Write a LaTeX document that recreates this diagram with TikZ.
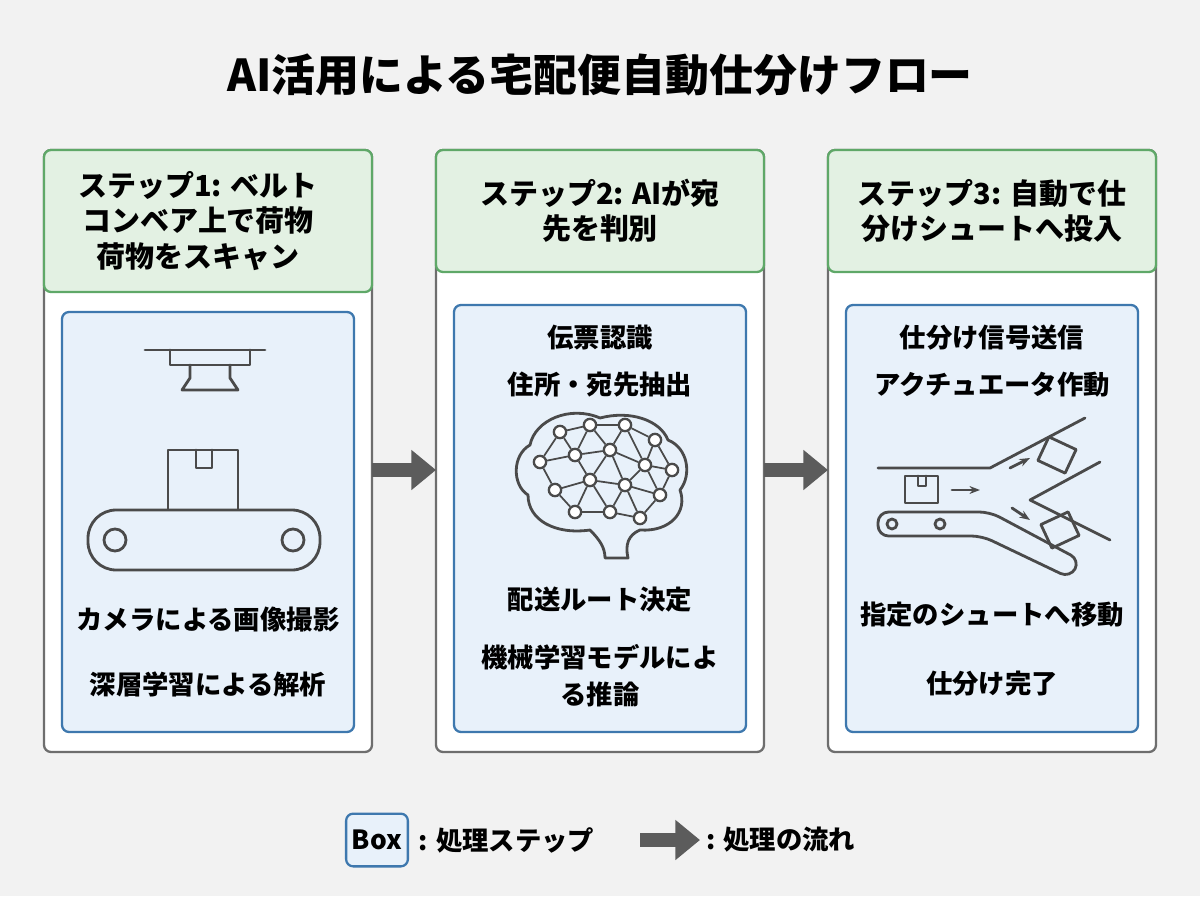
\documentclass[tikz,border=0pt]{standalone}
\usepackage{fontspec}
\setmainfont{Noto Sans CJK JP}
\usetikzlibrary{positioning, arrows.meta}
\definecolor{bgcol}{HTML}{F2F2F2}
\definecolor{hdrfill}{HTML}{E3F1E3}
\definecolor{hdrline}{HTML}{5FA868}
\definecolor{innerfill}{HTML}{E8F1FA}
\definecolor{innerline}{HTML}{3E78AE}
\definecolor{panelline}{HTML}{6E6E6E}
\definecolor{icon}{HTML}{4A4A4A}
\definecolor{flow}{HTML}{5C5C5C}

\tikzset{
  panel/.style={draw=panelline, line width=1.3pt, fill=white, rounded corners=4pt},
  header/.style={draw=hdrline, line width=1.3pt, fill=hdrfill, rounded corners=4pt},
  inner/.style={draw=innerline, line width=1.3pt, fill=innerfill, rounded corners=4pt},
  hdrtext/.style={font=\fontsize{16.5}{20}\selectfont\bfseries, align=center},
  itemtext/.style={font=\fontsize{15}{21}\selectfont\bfseries, align=center},
  flowarrow/.style={-{Triangle[length=14pt, width=22pt]}, line width=8pt, draw=flow},
  ico/.style={draw=icon, line width=1.6pt, line join=round, line cap=round},
  nd/.style={circle, draw=icon, fill=white, line width=1.3pt, inner sep=0pt, minimum size=7pt}
}

\begin{document}
\begin{tikzpicture}[x=0.02cm, y=-0.02cm]
    \fill[bgcol] (0,0) rectangle (1200,896);
    \useasboundingbox (0,0) rectangle (1200,896);

    % Title
    \node[font=\fontsize{25}{30}\selectfont\bfseries] (title) at (600,75) {AI活用による宅配便自動仕分けフロー};

    % Panels
    \foreach \x/\name in {44/one, 436/two, 828/three} {
        \draw[panel] (\x,150) rectangle ++(328,602);
        \coordinate (\name) at (\x,150);
    }

    % Headers
    \draw[header] (44,150) rectangle (372,292);
    \draw[header] (436,150) rectangle (764,272);
    \draw[header] (828,150) rectangle (1156,272);
    \node[hdrtext] (h1) at (198,221) {ステップ1: ベルト\\コンベア上で荷物\\荷物をスキャン};
    \node[hdrtext] (h2) at (600,211) {ステップ2: AIが宛\\先を判別};
    \node[hdrtext] (h3) at (992,211) {ステップ3: 自動で仕\\分けシュートへ投入};

    % Inner boxes
    \draw[inner] (62,312) rectangle (354,732);
    \draw[inner] (454,305) rectangle (746,732);
    \draw[inner] (846,305) rectangle (1138,732);

    % Texts step 1
    \node[itemtext] (t11) at (208,620) {カメラによる画像撮影};
    \node[itemtext] (t12) at (208,684) {深層学習による解析};
    % Texts step 2
    \node[itemtext] (t21) at (600,338) {伝票認識};
    \node[itemtext] (t22) at (600,385) {住所・宛先抽出};
    \node[itemtext] (t23) at (600,600) {配送ルート決定};
    \node[itemtext] (t24) at (600,676) {機械学習モデルによ\\る推論};
    % Texts step 3
    \node[itemtext] (t31) at (992,338) {仕分け信号送信};
    \node[itemtext] (t32) at (992,385) {アクチュエータ作動};
    \node[itemtext] (t33) at (992,615) {指定のシュートへ移動};
    \node[itemtext] (t34) at (992,684) {仕分け完了};

    % Camera and conveyor icon
    \draw[ico] (145,350) -- (265,350);
    \draw[ico] (170,350) -- (170,365) -- (250,365) -- (250,350);
    \draw[ico] (190,365) -- (190,378) -- (182,390) -- (238,390) -- (230,378) -- (230,365);
    \draw[ico] (168,450) rectangle (238,510);
    \draw[ico] (196,450) -- (196,468) -- (212,468) -- (212,450);
    \draw[ico, rounded corners=16pt] (88,510) rectangle (320,570);
    \draw[ico] (115,540) circle (11);
    \draw[ico] (293,540) circle (11);

    % Brain icon
    \draw[ico] (600,418) .. controls (570,405) and (535,420) .. (530,445)
        .. controls (512,455) and (512,485) .. (528,495)
        .. controls (528,520) and (555,535) .. (590,530)
        .. controls (600,540) and (605,548) .. (605,558) -- (628,558)
        .. controls (625,545) and (628,535) .. (640,530)
        .. controls (670,532) and (688,512) .. (680,490)
        .. controls (692,475) and (688,448) .. (668,440)
        .. controls (660,420) and (630,410) .. (600,418);
    \foreach \a/\px/\py in {a/560/432, b/590/425, c/625/425, d/655/440, e/540/462, f/575/455, g/610/450, h/645/465, i/672/470,
        j/555/490, k/590/480, l/625/485, m/660/495, n/575/512, o/610/512, p/640/518} {
        \node[nd] (\a) at (\px,\py) {};
    }
    \foreach \u/\v in {a/b, b/c, c/d, a/e, a/f, b/f, b/g, c/g, c/h, d/h, d/i, e/f, f/g, g/h, h/i,
        e/j, f/k, g/k, g/l, h/l, h/m, i/m, j/k, k/l, l/m, j/n, k/n, k/o, l/o, l/p, m/p, n/o, o/p} {
        \draw[icon, line width=1pt] (\u) -- (\v);
    }

    % Sorting icon
    \draw[ico] (878,468) -- (990,468) -- (1085,418);
    \draw[ico] (1030,500) -- (1100,462);
    \draw[ico] (1030,500) -- (1110,540);
    \draw[ico, rounded corners=6pt] (878,512) -- (990,512) -- (1080,560) -- (1070,578) -- (982,536) -- (878,536) -- cycle;
    \draw[ico] (892,524) circle (5);
    \draw[ico] (940,524) circle (5);
    \draw[ico] (905,476) rectangle (938,503);
    \draw[ico] (918,476) -- (918,486) -- (926,486) -- (926,476);
    \draw[ico, -{Stealth[length=6pt]}] (952,490) -- (980,490);
    \draw[ico, -{Stealth[length=6pt]}] (1010,468) -- (1030,458);
    \draw[ico, -{Stealth[length=6pt]}] (1012,508) -- (1030,520);
    \draw[ico, rotate around={-25:(1057,455)}] (1042,442) rectangle (1072,468);
    \draw[ico, rotate around={25:(1060,530)}] (1045,517) rectangle (1075,543);

    % Flow arrows
    \coordinate (f1s) at (372,470); \coordinate (f1e) at (436,470);
    \coordinate (f2s) at (764,470); \coordinate (f2e) at (828,470);
    \draw[flowarrow] (f1s) -- (f1e);
    \draw[flowarrow] (f2s) -- (f2e);

    % Legend
    \node[draw=innerline, line width=1.3pt, fill=innerfill, rounded corners=4pt, itemtext, minimum height=30pt] (lbox) at (377,840) {Box};
    \node[itemtext, right=2pt of lbox] (ltext) {: 処理ステップ};
    \coordinate (la) at (640,840);
    \coordinate (lb) at (700,840);
    \draw[flowarrow] (la) -- (lb);
    \node[itemtext, right=0pt of lb] (lflow) {: 処理の流れ};
\end{tikzpicture}
\end{document}
